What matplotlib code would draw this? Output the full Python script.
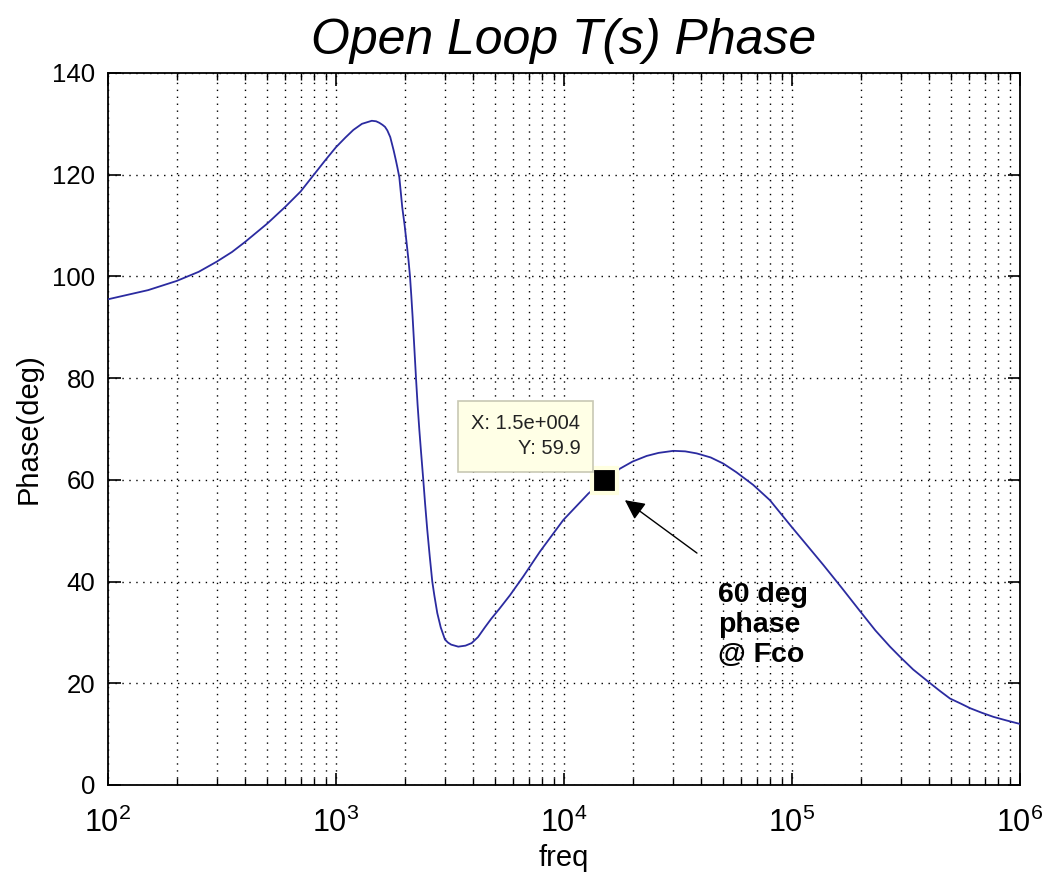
import numpy as np
import matplotlib
matplotlib.use('Agg')
import matplotlib.pyplot as plt
from matplotlib.ticker import LogLocator, NullFormatter

plt.rcParams['font.family'] = ['Liberation Sans', 'DejaVu Sans']
plt.rcParams['mathtext.fontset'] = 'custom'
plt.rcParams['mathtext.rm'] = 'Liberation Sans'

# phase curve (freq in Hz, phase in deg)
freq = [100, 150, 200, 250, 300, 350, 400, 500, 600, 700, 800, 900, 1000, 1100, 1192,
        1300, 1436, 1500, 1550, 1600, 1641, 1680, 1730, 1790, 1832, 1860, 1896, 1920,
        1954, 2000, 2042, 2080, 2112, 2140, 2168, 2200, 2244, 2280, 2321, 2360, 2415,
        2460, 2515, 2580, 2645, 2700, 2782, 2880, 3006, 3100, 3200, 3439, 3700, 3936,
        4200, 4500, 4800, 5200, 5794, 6630, 7848, 9930, 12790, 14980, 17600, 20000,
        23050, 26000, 30180, 34000, 38190, 44000, 49960, 57000, 67600, 80000, 99000,
        117000, 137000, 165000, 198600, 232000, 269000, 297700, 340000, 396000,
        445000, 493000, 550000, 604000, 680000, 764000, 870000, 1000000]
phase = [95.5, 97.3, 99.1, 100.9, 102.9, 104.8, 106.8, 110.4, 113.7, 116.7, 120.0,
         122.9, 125.4, 127.3, 128.8, 130.0, 130.6, 130.5, 130.2, 129.8, 129.4, 128.7,
         127.4, 124.8, 122.8, 121.4, 119.5, 117.0, 113.5, 110.1, 106.5, 103.2, 100.0,
         96.2, 92.1, 87.0, 80.0, 74.8, 69.8, 65.6, 60.0, 55.3, 50.1, 44.8, 40.0, 37.3,
         33.8, 31.0, 28.6, 28.0, 27.6, 27.2, 27.4, 27.9, 29.1, 31.0, 32.7, 34.6, 37.3,
         41.0, 45.9, 52.1, 57.3, 59.9, 62.2, 63.6, 64.7, 65.3, 65.7, 65.6, 65.2, 64.4,
         63.2, 61.5, 59.0, 56.0, 50.9, 47.0, 43.3, 38.8, 34.2, 30.4, 27.2, 25.2, 22.7,
         20.3, 18.5, 17.0, 16.0, 15.1, 14.2, 13.4, 12.7, 12.0]

tip_x = 1.5e4
tip_y = 59.9
tip_text = 'X: 1.5e+004\nY: 59.9'
note_text = '60 deg\nphase\n@ Fco'

fig = plt.figure(figsize=(10.48, 8.76), dpi=100)
ax = fig.add_axes([0.103, 0.1039, 0.8703, 0.8128])

ax.semilogx(freq, phase, color='#2b2ba0', linewidth=1.3, zorder=3)

ax.set_xlim(1e2, 1e6)
ax.set_ylim(0, 140)
ax.set_yticks(np.arange(0, 141, 20))
ax.xaxis.set_major_locator(LogLocator(base=10, numticks=10))
ax.xaxis.set_minor_locator(LogLocator(base=10, subs=np.arange(2, 10), numticks=20))
ax.xaxis.set_minor_formatter(NullFormatter())

ax.grid(True, which='major', linestyle=(0, (1, 4)), color='black', linewidth=1.0)
ax.grid(True, which='minor', axis='x', linestyle=(0, (1, 4)), color='black', linewidth=1.0)

ax.tick_params(which='major', direction='in', length=9, width=1.2, top=True, right=True,
               labelsize=18.5, pad=9)
ax.tick_params(axis='x', which='major', labelsize=22, pad=16)
ax.tick_params(which='minor', direction='in', length=5, width=1.0, top=True, right=True)
for s in ax.spines.values():
    s.set_linewidth(1.3)

ax.set_xlabel('freq', fontsize=21, labelpad=4)
ax.set_ylabel('Phase(deg)', fontsize=21, labelpad=7)
ax.set_title('Open Loop T(s) Phase', fontsize=36, style='italic', pad=14)

# data tip
ax.plot([tip_x], [tip_y], marker='s', markersize=18, color='black',
        markeredgecolor='#ffffe0', markeredgewidth=3, zorder=5)
ax.text(6800, 68.6, tip_text, fontsize=14.5, ha='center', va='center', multialignment='right',
        linespacing=1.45, color='#222222', zorder=6,
        bbox=dict(boxstyle='square,pad=0.65', facecolor='#ffffe6', edgecolor='#c8c8b4', linewidth=1.2))

# annotation
ax.annotate('', xy=(18500, 56.0), xytext=(38300, 45.6),
            arrowprops=dict(arrowstyle='-|>', color='black', linewidth=1.0,
                            mutation_scale=30, shrinkA=0, shrinkB=0), zorder=6)
ax.text(47300, 40.0, note_text, fontsize=20.5, fontweight='bold', ha='left', va='top',
        linespacing=1.2, zorder=6)

fig.savefig('out.png', dpi=100)
